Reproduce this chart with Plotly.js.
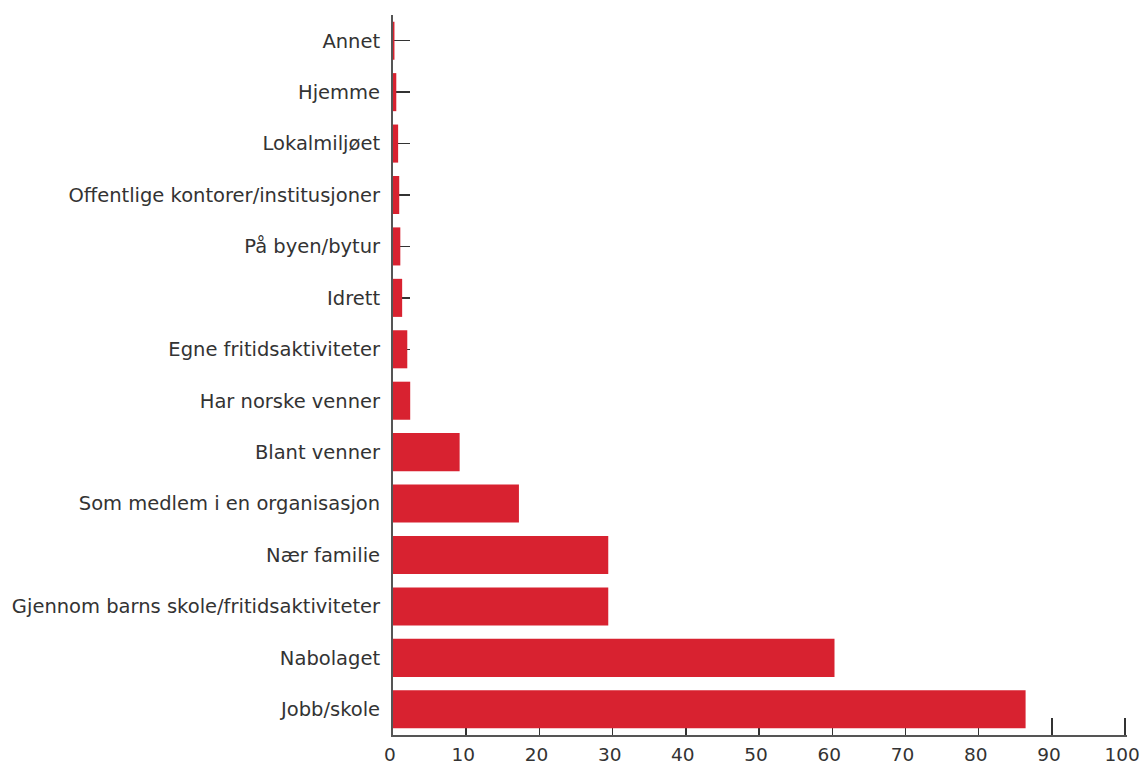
<!DOCTYPE html>
<html>
<head>
<meta charset="utf-8">
<script src="https://cdn.plot.ly/plotly-3.0.1.min.js"></script>
<style>html,body{margin:0;padding:0;background:#fff;}#chart{width:1141px;height:767px;}</style>
</head>
<body>
<div id="chart"></div>
<script>
const categories = [
  "Annet",
  "Hjemme",
  "Lokalmiljøet",
  "Offentlige kontorer/institusjoner",
  "På byen/bytur",
  "Idrett",
  "Egne fritidsaktiviteter",
  "Har norske venner",
  "Blant venner",
  "Som medlem i en organisasjon",
  "Nær familie",
  "Gjennom barns skole/fritidsaktiviteter",
  "Nabolaget",
  "Jobb/skole"
];
const values = [0.2, 0.45, 0.7, 0.85, 1.0, 1.25, 1.95, 2.35, 9.1, 17.2, 29.4, 29.4, 60.3, 86.4];
const xTicks = [0, 10, 20, 30, 40, 50, 60, 70, 80, 90, 100];
const xTickText = xTicks.map(String);

const trace = {
  type: "bar",
  orientation: "h",
  x: values,
  y: categories,
  marker: {color: "#d82230"},
  width: 0.74,
  hoverinfo: "x+y"
};

const layout = {
  width: 1141,
  height: 767,
  margin: {l: 393, r: 14, t: 15, b: 32, pad: 0},
  paper_bgcolor: "#ffffff",
  plot_bgcolor: "#ffffff",
  font: {family: "DejaVu Sans, Verdana, sans-serif", size: 19.5, color: "#333333"},
  showlegend: false,
  xaxis: {
    range: [0, 100.25],
    tickvals: xTicks,
    ticktext: xTickText,
    ticks: "inside",
    ticklen: 17,
    tickwidth: 1.5,
    tickcolor: "#333333",
    showline: true,
    linecolor: "#555555",
    linewidth: 2,
    showgrid: false,
    zeroline: false,
    layer: "below traces",
    ticklabeloverflow: "allow",
    ticklabelstandoff: 2,
    ticklabelshift: -3,
    tickfont: {size: 18.5, color: "#333333"},
    fixedrange: true
  },
  yaxis: {
    type: "category",
    categoryorder: "array",
    categoryarray: categories,
    range: [13.5, -0.5],
    ticks: "inside",
    ticklen: 17,
    tickwidth: 1.5,
    tickcolor: "#333333",
    showline: true,
    linecolor: "#555555",
    linewidth: 2,
    showgrid: false,
    zeroline: false,
    layer: "below traces",
    ticklabelstandoff: 7,
    tickfont: {size: 19.5, color: "#333333"},
    fixedrange: true
  }
};

Plotly.newPlot("chart", [trace], layout, {displayModeBar: false, staticPlot: true});
</script>
</body>
</html>
